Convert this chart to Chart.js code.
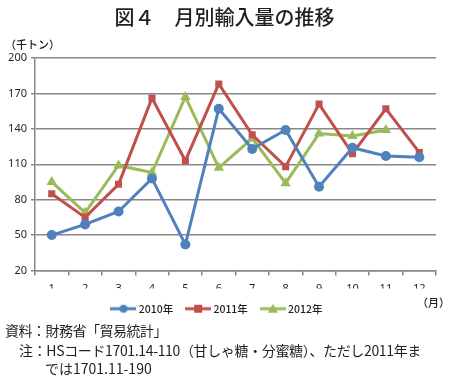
<!DOCTYPE html>
<html><head><meta charset="utf-8">
<script src="https://cdn.jsdelivr.net/npm/chart.js@4"></script>
<style>
html,body{margin:0;padding:0;background:#fff;}
#wrap{position:relative;width:449px;height:381px;overflow:hidden;font-family:"Noto Sans CJK JP","Noto Sans",sans-serif;color:#231f20;}
canvas{position:absolute;left:0;top:0;}
.t{position:absolute;white-space:nowrap;line-height:1;}
</style></head>
<body><div id="wrap">
<canvas id="c" width="449" height="381"></canvas>
<div class="t" style="left:0;width:449px;text-align:center;top:7px;font-size:20px;font-weight:500;">図４　月別輸入量の推移</div>
<div class="t" style="left:5px;top:39px;font-size:11px;font-weight:500;">（千トン）</div>
<div class="t" style="left:417px;top:297px;font-size:11px;font-weight:500;">（月）</div>
<div class="t" style="left:5px;top:323px;font-size:14px;letter-spacing:-0.5px;">資料：財務省「貿易統計」</div>
<div class="t" style="left:19px;top:343px;font-size:14px;letter-spacing:-0.35px;">注：HSコード1701.14-110（甘しゃ糖・分蜜糖）、ただし2011年ま</div>
<div class="t" style="left:45px;top:361px;font-size:14px;">では1701.11-190</div>
</div>
<script>
const months = ["1","2","3","4","5","6","7","8","9","10","11","12"];
const seriesNames = ["2010年","2011年","2012年"];
const v2010 = [50,59,70,98,42,157,123,139,91,124,117,116];
const v2011 = [85,65,93,166,113,178,135,108,161,119,157,120];
const v2012 = [95,69,109,103,167,107,132,94,136,134,139,null];
const yTicks = [20,50,80,110,140,170,200];

const colors = ["#4f81bd","#c0504d","#9bbb59"];
const styles = ["circle","rect","triangle"];
const radii = [5,5,6];

function legendIcon(color, style){
  const cv = document.createElement('canvas');
  cv.width = 26; cv.height = 12;
  const g = cv.getContext('2d');
  g.strokeStyle = color; g.lineWidth = 3;
  g.beginPath(); g.moveTo(0,6); g.lineTo(26,6); g.stroke();
  g.fillStyle = color;
  g.beginPath();
  if(style==='circle'){ g.arc(13,6,4,0,Math.PI*2); }
  else if(style==='rect'){ g.rect(9,2,8,8); }
  else { g.moveTo(13,1); g.lineTo(18,10); g.lineTo(8,10); g.closePath(); }
  g.fill();
  return cv;
}
const icons = colors.map((c,i)=>legendIcon(c, styles[i]));

const data = {
  labels: months,
  datasets: [v2010,v2011,v2012].map((vals,i)=>({
    label: seriesNames[i],
    data: vals,
    borderColor: colors[i],
    backgroundColor: colors[i],
    borderWidth: 3,
    pointStyle: styles[i],
    pointRadius: radii[i],
    pointHoverRadius: radii[i],
    pointBorderWidth: 0,
    tension: 0,
    spanGaps: false
  }))
};

new Chart(document.getElementById('c'), {
  type: 'line',
  data,
  options: {
    responsive: false,
    animation: false,
    layout: { padding: { top: 58, left: 0, right: 13, bottom: 57 } },
    plugins: {
      title: { display: false },
      tooltip: { enabled: false },
      legend: {
        position: 'bottom',
        labels: {
          usePointStyle: true,
          pointStyleWidth: 20,
          padding: 15,
          color: '#231f20',
          font: { family: '"Noto Sans CJK JP","Noto Sans",sans-serif', size: 10.5, weight: '500' },
          generateLabels(chart){
            return chart.data.datasets.map((ds,i)=>({
              text: ds.label,
              pointStyle: icons[i],
              fillStyle: ds.borderColor,
              strokeStyle: ds.borderColor,
              lineWidth: 0,
              hidden: false,
              datasetIndex: i,
              fontColor: '#231f20'
            }));
          }
        }
      }
    },
    scales: {
      x: {
        offset: true,
        afterFit(s){ s.height = 18; },
        grid: { display: true, drawOnChartArea: false, offset: true, color: '#888', lineWidth: 1.5, tickLength: 5 },
        border: { color: '#888', width: 1.5 },
        ticks: { color: '#231f20', padding: 7, font: { family: '"Noto Sans","DejaVu Sans",sans-serif', size: 11 } }
      },
      y: {
        min: 20, max: 200,
        afterFit(s){ s.width = 35; },
        afterBuildTicks(s){ s.ticks = yTicks.map(v=>({value:v})); },
        grid: { color: '#888', lineWidth: 1.5, tickLength: 4 },
        border: { color: '#888', width: 1.5 },
        ticks: { color: '#231f20', padding: 4, font: { family: '"Noto Sans","DejaVu Sans",sans-serif', size: 11 } }
      }
    }
  }
});
</script>
</body></html>
